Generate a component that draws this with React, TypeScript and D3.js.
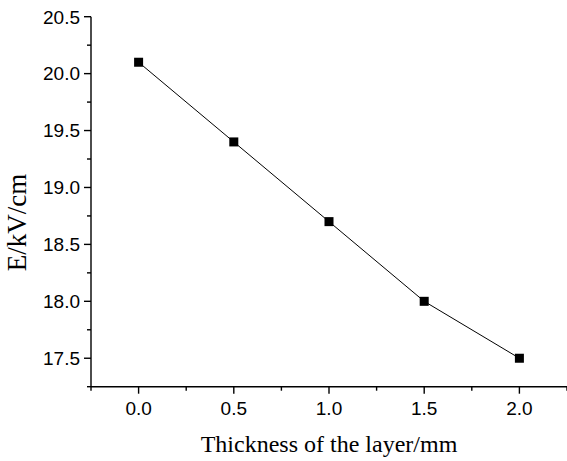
import React, { useEffect, useRef } from 'react';
import * as d3 from 'd3';

const thickness = [0.0, 0.5, 1.0, 1.5, 2.0];
const field = [20.1, 19.4, 18.7, 18.0, 17.5];
const xTicks = [0.0, 0.5, 1.0, 1.5, 2.0];
const yTicks = [17.5, 18.0, 18.5, 19.0, 19.5, 20.0, 20.5];

const W = 567;
const H = 461;

const App = () => {
  const ref = useRef<SVGSVGElement>(null);

  useEffect(() => {
    const svg = d3.select(ref.current);
    svg.selectAll('*').remove();

    const x = d3.scaleLinear().domain([-0.25, 2.25]).range([91, 567]);
    const y = d3.scaleLinear().domain([17.25, 20.5]).range([386.7, 16.7]);

    // minor ticks
    const xMinor = d3.range(-0.25, 2.26, 0.5);
    const yMinor = d3.range(17.25, 20.5, 0.5);

    const gx = svg.append('g').attr('transform', `translate(0,${y(17.25)})`);
    gx.append('line').attr('x1', x(-0.25)).attr('x2', x(2.25)).attr('stroke', '#000').attr('stroke-width', 1.4);
    gx.selectAll('.maj').data(xTicks).enter().append('line')
      .attr('x1', d => x(d)).attr('x2', d => x(d)).attr('y1', 0).attr('y2', 7)
      .attr('stroke', '#000').attr('stroke-width', 1.4);
    gx.selectAll('.min').data(xMinor).enter().append('line')
      .attr('x1', d => x(d)).attr('x2', d => x(d)).attr('y1', 0).attr('y2', 4)
      .attr('stroke', '#000').attr('stroke-width', 1.4);
    gx.selectAll('text').data(xTicks).enter().append('text')
      .attr('x', d => x(d)).attr('y', 28.5)
      .attr('text-anchor', 'middle')
      .attr('font-family', 'Liberation Sans, Arial, sans-serif')
      .attr('font-size', 19)
      .text(d => d.toFixed(1));

    const gy = svg.append('g').attr('transform', `translate(${x(-0.25)},0)`);
    gy.append('line').attr('y1', y(17.25)).attr('y2', y(20.5)).attr('stroke', '#000').attr('stroke-width', 1.4);
    gy.selectAll('.maj').data(yTicks).enter().append('line')
      .attr('y1', d => y(d)).attr('y2', d => y(d)).attr('x1', 0).attr('x2', -7)
      .attr('stroke', '#000').attr('stroke-width', 1.4);
    gy.selectAll('.min').data(yMinor).enter().append('line')
      .attr('y1', d => y(d)).attr('y2', d => y(d)).attr('x1', 0).attr('x2', -4)
      .attr('stroke', '#000').attr('stroke-width', 1.4);
    gy.selectAll('text').data(yTicks).enter().append('text')
      .attr('x', -11).attr('y', d => y(d))
      .attr('dy', '0.36em')
      .attr('text-anchor', 'end')
      .attr('font-family', 'Liberation Sans, Arial, sans-serif')
      .attr('font-size', 19)
      .text(d => d.toFixed(1));

    const pts = thickness.map((t, i) => [t, field[i]] as [number, number]);
    const line = d3.line<[number, number]>().x(d => x(d[0])).y(d => y(d[1]));
    svg.append('path').datum(pts).attr('d', line)
      .attr('fill', 'none').attr('stroke', '#000').attr('stroke-width', 1);

    svg.selectAll('.pt').data(pts).enter().append('rect')
      .attr('x', d => x(d[0]) - 4.5).attr('y', d => y(d[1]) - 4.5)
      .attr('width', 9).attr('height', 9).attr('fill', '#000');

    svg.append('text')
      .attr('x', x(1.0)).attr('y', 451.5)
      .attr('text-anchor', 'middle')
      .attr('font-family', 'Liberation Serif, Times New Roman, serif')
      .attr('font-size', 24)
      .text('Thickness of the layer/mm');

    svg.append('text')
      .attr('transform', `translate(25.5,222.5) rotate(-90)`)
      .attr('text-anchor', 'middle')
      .attr('font-family', 'Liberation Serif, Times New Roman, serif')
      .attr('font-size', 27)
      .text('E/kV/cm');
  }, []);

  return (
    <svg ref={ref} width={W} height={H}
      style={{ position: 'absolute', left: 0, top: 0, background: '#fff' }} />
  );
};

export default App;
